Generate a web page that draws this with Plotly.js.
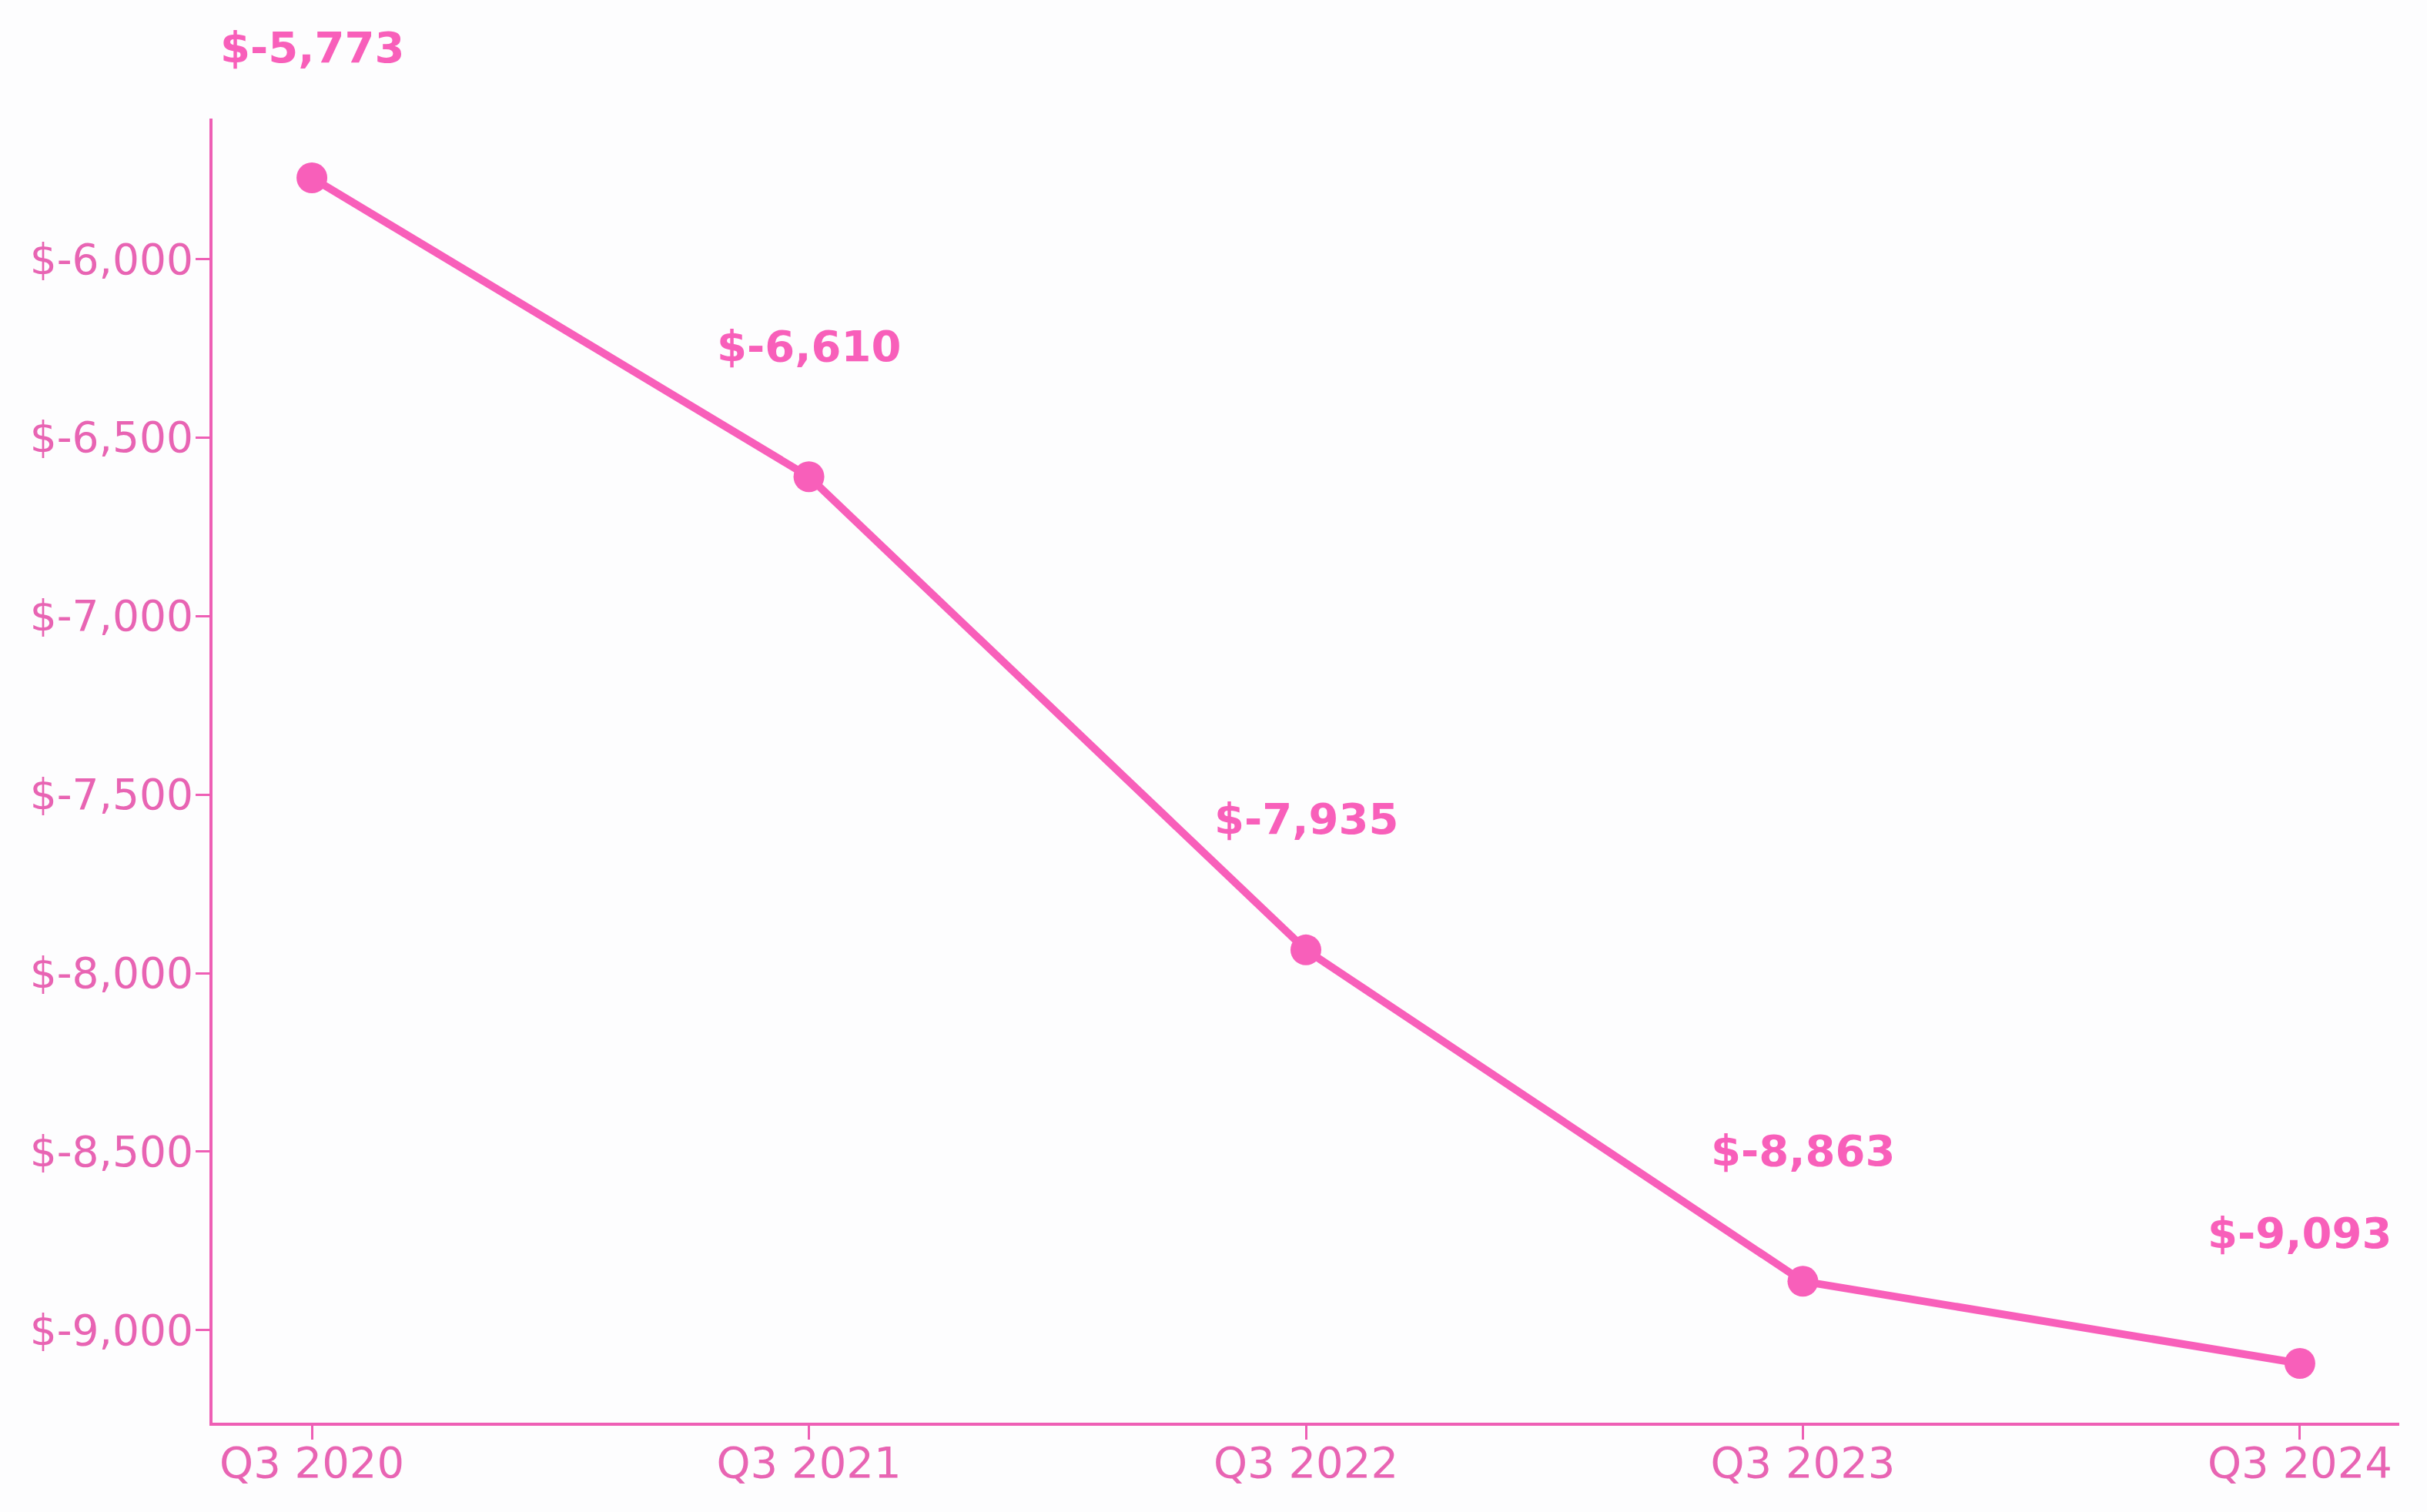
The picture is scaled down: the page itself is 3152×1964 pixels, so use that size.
<!DOCTYPE html>
<html>
<head>
<meta charset="utf-8">
<script src="https://cdn.plot.ly/plotly-3.0.1.min.js"></script>
<style>
  html, body { margin: 0; padding: 0; background: #fdfdfe; overflow: hidden; }
  #chart { width: 3152px; height: 1964px; }
</style>
</head>
<body>
<div id="chart"></div>
<script>
const quarters = ["Q3 2020", "Q3 2021", "Q3 2022", "Q3 2023", "Q3 2024"];
const values = [-5773, -6610, -7935, -8863, -9093];
const yTickVals = [-9000, -8500, -8000, -7500, -7000, -6500, -6000];

const pink = "#f85fba";
const axisPink = "#ee5fb5";
const labelPink = "#e864b3";

function fmt(v) {
  return "$-" + Math.abs(v).toLocaleString("en-US");
}

const trace = {
  x: quarters,
  y: values,
  type: "scatter",
  mode: "lines+markers",
  line: { color: pink, width: 10 },
  marker: { color: pink, size: 40 },
  hoverinfo: "skip",
  cliponaxis: false
};

const annotations = quarters.map((q, i) => ({
  x: q,
  y: values[i],
  xref: "x",
  yref: "y",
  text: "<b>" + fmt(values[i]) + "</b>",
  showarrow: false,
  yshift: 170,
  xanchor: "center",
  yanchor: "middle",
  font: { family: "DejaVu Sans", size: 56, color: pink }
}));

const layout = {
  width: 3152,
  height: 1964,
  paper_bgcolor: "#fdfdfe",
  plot_bgcolor: "rgba(0,0,0,0)",
  margin: { l: 276, r: 36, t: 154, b: 116 },
  showlegend: false,
  font: { family: "DejaVu Sans", color: labelPink },
  xaxis: {
    type: "category",
    range: [-0.2, 4.2],
    showgrid: false,
    zeroline: false,
    showline: true,
    linecolor: axisPink,
    linewidth: 4,
    ticks: "outside",
    ticklen: 18,
    tickwidth: 3,
    tickcolor: axisPink,
    ticklabelstandoff: -18,
    tickfont: { family: "DejaVu Sans", size: 56, color: labelPink }
  },
  yaxis: {
    range: [-9259, -5607],
    showgrid: false,
    zeroline: false,
    showline: true,
    linecolor: axisPink,
    linewidth: 4,
    ticks: "outside",
    ticklen: 18,
    tickwidth: 3,
    tickcolor: axisPink,
    ticklabelstandoff: -8,
    tickvals: yTickVals,
    ticktext: yTickVals.map(fmt),
    tickfont: { family: "DejaVu Sans", size: 55, color: labelPink }
  },
  annotations: annotations
};

Plotly.newPlot("chart", [trace], layout, { displayModeBar: false, staticPlot: true });
</script>
</body>
</html>
